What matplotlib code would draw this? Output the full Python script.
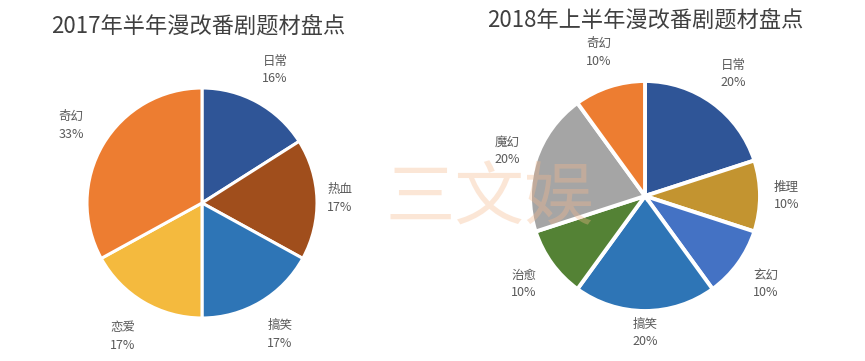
import matplotlib
matplotlib.use("Agg")
import matplotlib.pyplot as plt
import numpy as np

plt.rcParams['font.family'] = ['Noto Sans CJK SC', 'DejaVu Sans']

# ---- data ----
title_2017 = "2017年半年漫改番剧题材盘点"
labels_2017 = ["日常", "热血", "搞笑", "恋爱", "奇幻"]
values_2017 = [16, 17, 17, 17, 33]
colors_2017 = ["#2F5597", "#A04E1C", "#2E75B6", "#F4BA3E", "#ED7D31"]

title_2018 = "2018年上半年漫改番剧题材盘点"
labels_2018 = ["日常", "推理", "玄幻", "搞笑", "治愈", "魔幻", "奇幻"]
values_2018 = [20, 10, 10, 20, 10, 20, 10]
colors_2018 = ["#2F5597", "#C39430", "#4472C4", "#2E75B6", "#548235", "#A5A5A5", "#ED7D31"]

# label distance factors (styling)
dist_2017 = [1.32, 1.2, 1.33, 1.35, 1.32]
dist_2018 = [1.31, 1.23, 1.3, 1.19, 1.3, 1.26, 1.31]

W, H = 865, 361
fig = plt.figure(figsize=(W / 100, H / 100), dpi=100)
fig.patch.set_facecolor("white")

S = 1.5
R = 115


def make_ax(cx, cy):
    ax = fig.add_axes([(cx - R * S) / W, ((H - cy) - R * S) / H,
                       2 * R * S / W, 2 * R * S / H])
    return ax


def draw_pie(ax, values, colors, labels, dists, lw):
    ax.pie(values, colors=colors, startangle=90, counterclock=False,
           radius=1.0, wedgeprops=dict(edgecolor="white", linewidth=lw))
    ax.set_xlim(-S, S)
    ax.set_ylim(-S, S)
    ax.set_aspect("equal")
    ax.axis("off")
    total = float(sum(values))
    cum = 0.0
    for v, lab, d in zip(values, labels, dists):
        mid = 90 - (cum + v / 2.0) / total * 360.0
        cum += v
        a = np.deg2rad(mid)
        x, y = d * np.cos(a), d * np.sin(a)
        ax.text(x, y, f"{lab}\n{int(round(v / total * 100))}%", ha="center",
                va="center", fontsize=9, color="#595959", linespacing=1.45)


ax1 = make_ax(202, 203)
draw_pie(ax1, values_2017, colors_2017, labels_2017, dist_2017, 2.2)

ax2 = make_ax(645, 196)
draw_pie(ax2, values_2018, colors_2018, labels_2018, dist_2018, 2.8)

fig.text(198 / W, 1 - 27 / H, title_2017, ha="center", va="center",
         fontsize=16, color="#404040")
fig.text(645 / W, 1 - 21 / H, title_2018, ha="center", va="center",
         fontsize=16, color="#404040")

# watermark
fig.text(490 / W, 1 - 200 / H, "三文娱", ha="center", va="center",
         fontsize=50, color="#F6B98C", alpha=0.35, zorder=10)

fig.savefig("out.png", dpi=100, facecolor="white")
